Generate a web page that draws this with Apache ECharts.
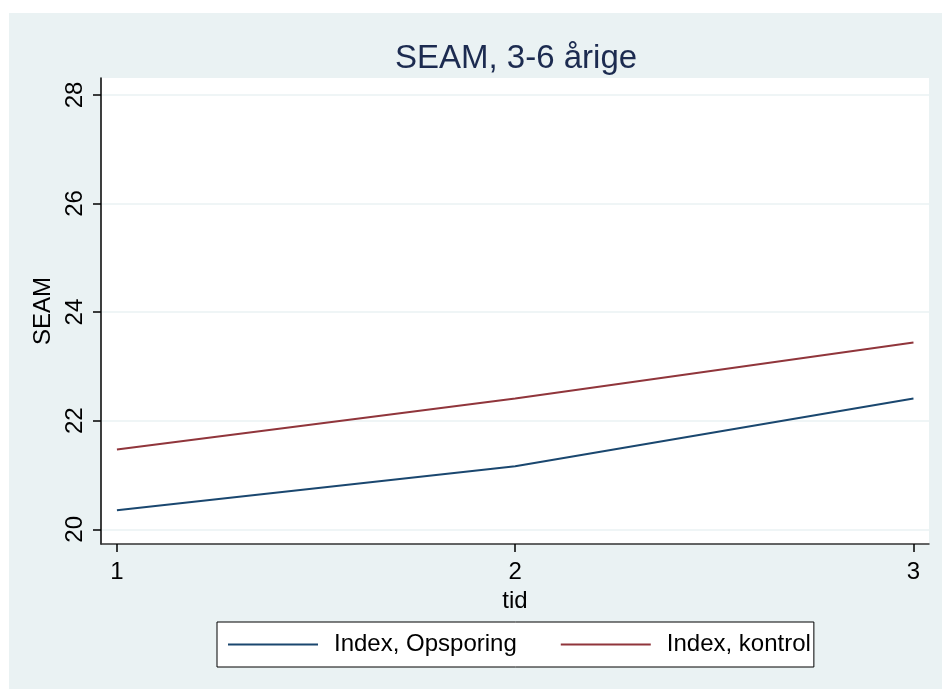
<!DOCTYPE html>
<html>
<head>
<meta charset="utf-8">
<script src="https://cdn.jsdelivr.net/npm/echarts@6/dist/echarts.min.js"></script>
<style>
  html, body { margin: 0; padding: 0; background: #fff; }
  #chart { position: absolute; left: 9px; top: 13px; width: 933px; height: 676px; }
</style>
</head>
<body>
<div id="chart"></div>
<script>
// data
const tid = [1, 2, 3];
const opsporing = [20.35, 21.16, 22.41];
const kontrol = [21.47, 22.41, 23.44];
const yTicks = [20, 22, 24, 26, 28];
const xTicks = [1, 2, 3];

const font = 'Liberation Sans, Arial, sans-serif';
const bg = '#eaf2f3';

const toPairs = (xs, ys) => xs.map((x, i) => [x, ys[i]]);

const chart = echarts.init(document.getElementById('chart'));
chart.setOption({
  backgroundColor: bg,
  animation: false,
  title: {
    text: 'SEAM, 3-6 årige',
    left: 386,
    top: 29,
    padding: 0,
    textStyle: { color: '#1c2b50', fontSize: 33, fontWeight: 'normal', fontFamily: font }
  },
  grid: { left: 92, top: 65, right: 13, bottom: 145, show: true, backgroundColor: '#fff', borderWidth: 0 },
  xAxis: {
    type: 'value',
    min: 0.96,
    max: 3.039,
    name: 'tid',
    nameLocation: 'middle',
    nameGap: 37,
    nameTextStyle: { color: '#000', fontSize: 24, fontFamily: font },
    axisLine: { onZero: false, lineStyle: { color: '#333', width: 1.5 } },
    axisTick: { length: 8, customValues: xTicks, lineStyle: { color: '#000', width: 1.5 } },
    axisLabel: { customValues: xTicks, margin: 16, color: '#000', fontSize: 24, fontFamily: font },
    splitLine: { show: false }
  },
  yAxis: {
    type: 'value',
    min: 19.729,
    max: 28.311,
    name: 'SEAM',
    nameLocation: 'middle',
    nameRotate: 90,
    nameGap: 36,
    nameTextStyle: { color: '#000', fontSize: 24, fontFamily: font },
    axisLine: { show: true, onZero: false, lineStyle: { color: '#000', width: 1.5 } },
    axisTick: { show: true, length: 8, customValues: yTicks, lineStyle: { color: '#000', width: 1.5 } },
    axisLabel: { customValues: yTicks, rotate: 90, margin: 14, color: '#000', fontSize: 24, fontFamily: font },
    splitLine: { show: true, lineStyle: { color: bg, width: 1.5 } }
  },
  legend: {
    left: 208,
    top: 609,
    icon: 'rect',
    itemWidth: 90,
    itemHeight: 2,
    itemGap: 44,
    padding: [9, 3, 9, 11],
    backgroundColor: '#fff',
    borderColor: '#000',
    borderWidth: 1,
    textStyle: { color: '#000', fontSize: 24, lineHeight: 27, fontFamily: font, padding: [0, 0, 0, 11] },
    data: ['Index, Opsporing', 'Index, kontrol']
  },
  series: [
    {
      name: 'Index, Opsporing',
      type: 'line',
      data: toPairs(tid, opsporing),
      symbol: 'none',
      color: '#1a476f',
      lineStyle: { color: '#1a476f', width: 2 }
    },
    {
      name: 'Index, kontrol',
      type: 'line',
      data: toPairs(tid, kontrol),
      symbol: 'none',
      color: '#90353b',
      lineStyle: { color: '#90353b', width: 2 }
    }
  ]
});
</script>
</body>
</html>
